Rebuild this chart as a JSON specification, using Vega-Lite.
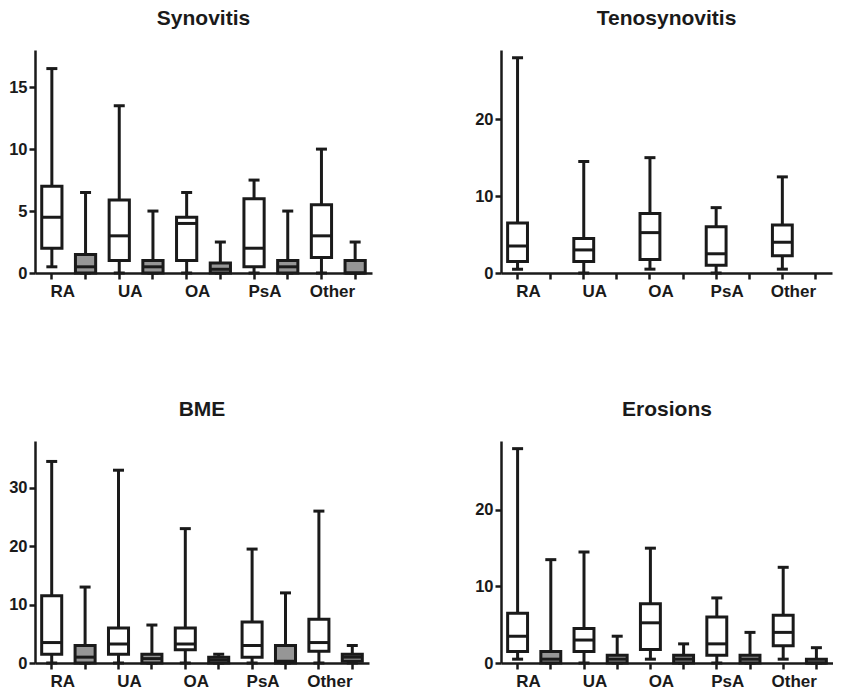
{
  "$schema": "https://vega.github.io/schema/vega-lite/v6.json",
  "padding": {"left": 8, "top": 8, "right": 0, "bottom": 0},
  "background": "white",
  "data": {"values": [
    {"measure": "Synovitis", "box": "RA|1", "group": "1", "min": 0.5, "q1": 2, "median": 4.5, "q3": 7, "max": 16.5},
    {"measure": "Synovitis", "box": "RA|2", "group": "2", "min": 0, "q1": 0, "median": 0.5, "q3": 1.5, "max": 6.5},
    {"measure": "Synovitis", "box": "UA|1", "group": "1", "min": 0, "q1": 1, "median": 3, "q3": 5.9, "max": 13.5},
    {"measure": "Synovitis", "box": "UA|2", "group": "2", "min": 0, "q1": 0, "median": 0.5, "q3": 1, "max": 5},
    {"measure": "Synovitis", "box": "OA|1", "group": "1", "min": 0, "q1": 1, "median": 4, "q3": 4.5, "max": 6.5},
    {"measure": "Synovitis", "box": "OA|2", "group": "2", "min": 0, "q1": 0, "median": 0.3, "q3": 0.8, "max": 2.5},
    {"measure": "Synovitis", "box": "PsA|1", "group": "1", "min": 0, "q1": 0.5, "median": 2, "q3": 6, "max": 7.5},
    {"measure": "Synovitis", "box": "PsA|2", "group": "2", "min": 0, "q1": 0, "median": 0.5, "q3": 1, "max": 5},
    {"measure": "Synovitis", "box": "Other|1", "group": "1", "min": 0, "q1": 1.25, "median": 3, "q3": 5.5, "max": 10},
    {"measure": "Synovitis", "box": "Other|2", "group": "2", "min": 0, "q1": 0, "median": 0, "q3": 1, "max": 2.5},

    {"measure": "Tenosynovitis", "box": "RA|1", "group": "1", "min": 0.5, "q1": 1.5, "median": 3.5, "q3": 6.5, "max": 28},
    {"measure": "Tenosynovitis", "box": "UA|1", "group": "1", "min": 0, "q1": 1.5, "median": 3, "q3": 4.5, "max": 14.5},
    {"measure": "Tenosynovitis", "box": "OA|1", "group": "1", "min": 0.5, "q1": 1.75, "median": 5.25, "q3": 7.75, "max": 15},
    {"measure": "Tenosynovitis", "box": "PsA|1", "group": "1", "min": 0, "q1": 1, "median": 2.5, "q3": 6, "max": 8.5},
    {"measure": "Tenosynovitis", "box": "Other|1", "group": "1", "min": 0.5, "q1": 2.25, "median": 4, "q3": 6.25, "max": 12.5},

    {"measure": "BME", "box": "RA|1", "group": "1", "min": 0, "q1": 1.5, "median": 3.5, "q3": 11.5, "max": 34.5},
    {"measure": "BME", "box": "RA|2", "group": "2", "min": 0, "q1": 0, "median": 1, "q3": 3, "max": 13},
    {"measure": "BME", "box": "UA|1", "group": "1", "min": 0, "q1": 1.5, "median": 3.25, "q3": 6, "max": 33},
    {"measure": "BME", "box": "UA|2", "group": "2", "min": 0, "q1": 0, "median": 0.75, "q3": 1.5, "max": 6.5},
    {"measure": "BME", "box": "OA|1", "group": "1", "min": 0, "q1": 2.25, "median": 3.25, "q3": 6, "max": 23},
    {"measure": "BME", "box": "OA|2", "group": "2", "min": 0, "q1": 0, "median": 0.5, "q3": 1, "max": 1.5},
    {"measure": "BME", "box": "PsA|1", "group": "1", "min": 0, "q1": 1, "median": 3, "q3": 7, "max": 19.5},
    {"measure": "BME", "box": "PsA|2", "group": "2", "min": 0, "q1": 0, "median": 0.3, "q3": 3, "max": 12},
    {"measure": "BME", "box": "Other|1", "group": "1", "min": 0, "q1": 2, "median": 3.5, "q3": 7.5, "max": 26},
    {"measure": "BME", "box": "Other|2", "group": "2", "min": 0, "q1": 0.3, "median": 1, "q3": 1.5, "max": 3},

    {"measure": "Erosions", "box": "RA|1", "group": "1", "min": 0.5, "q1": 1.5, "median": 3.5, "q3": 6.5, "max": 28},
    {"measure": "Erosions", "box": "RA|2", "group": "2", "min": 0, "q1": 0, "median": 0.5, "q3": 1.5, "max": 13.5},
    {"measure": "Erosions", "box": "UA|1", "group": "1", "min": 0, "q1": 1.5, "median": 3, "q3": 4.5, "max": 14.5},
    {"measure": "Erosions", "box": "UA|2", "group": "2", "min": 0, "q1": 0, "median": 0.5, "q3": 1, "max": 3.5},
    {"measure": "Erosions", "box": "OA|1", "group": "1", "min": 0.5, "q1": 1.75, "median": 5.25, "q3": 7.75, "max": 15},
    {"measure": "Erosions", "box": "OA|2", "group": "2", "min": 0, "q1": 0, "median": 0.5, "q3": 1, "max": 2.5},
    {"measure": "Erosions", "box": "PsA|1", "group": "1", "min": 0, "q1": 1, "median": 2.5, "q3": 6, "max": 8.5},
    {"measure": "Erosions", "box": "PsA|2", "group": "2", "min": 0, "q1": 0, "median": 0.5, "q3": 1, "max": 4},
    {"measure": "Erosions", "box": "Other|1", "group": "1", "min": 0.5, "q1": 2.25, "median": 4, "q3": 6.25, "max": 12.5},
    {"measure": "Erosions", "box": "Other|2", "group": "2", "min": 0, "q1": 0, "median": 0, "q3": 0.5, "max": 2}
  ]},
  "columns": 2,
  "spacing": {"row": 100, "column": 102},
  "concat": [
    {
      "title": {"text": "Synovitis"},
      "width": 337, "height": 223,
      "transform": [{"filter": "datum.measure === 'Synovitis'"}],
      "encoding": {"x": {"field": "box", "type": "nominal", "sort": null,
        "scale": {"domain": ["RA|1","RA|2","UA|1","UA|2","OA|1","OA|2","PsA|1","PsA|2","Other|1","Other|2"], "paddingInner": 0, "paddingOuter": 0},
        "axis": {"title": null, "labelFontSize": 17, "labelPadding": 4, "labelOffset": 11, "labelExpr": "split(datum.value, '|')[1] == '1' ? split(datum.value, '|')[0] : ''"}}},
      "layer": [
        {"mark": {"type": "rule", "color": "#1a1a1a", "strokeWidth": 3},
         "encoding": {"y": {"field": "min", "type": "quantitative", "scale": {"domain": [0, 18], "nice": false, "zero": true}, "axis": {"title": null, "values": [0, 5, 10, 15]}}, "y2": {"field": "max"}}},
        {"mark": {"type": "tick", "color": "#1a1a1a", "size": 11, "thickness": 3, "opacity": 1},
         "encoding": {"y": {"field": "min", "type": "quantitative", "axis": {"title": null}}}},
        {"mark": {"type": "tick", "color": "#1a1a1a", "size": 11, "thickness": 3, "opacity": 1},
         "encoding": {"y": {"field": "max", "type": "quantitative", "axis": {"title": null}}}},
        {"mark": {"type": "bar", "stroke": "#1a1a1a", "strokeWidth": 3, "width": {"band": 0.6}, "opacity": 1},
         "encoding": {"y": {"field": "q1", "type": "quantitative", "axis": {"title": null}}, "y2": {"field": "q3"},
           "fill": {"field": "group", "type": "nominal", "scale": {"domain": ["1", "2"], "range": ["#ffffff", "#969696"]}, "legend": null}}},
        {"mark": {"type": "tick", "color": "#1a1a1a", "size": 20, "thickness": 3, "opacity": 1},
         "encoding": {"y": {"field": "median", "type": "quantitative", "axis": {"title": null}}}}
      ]
    },
    {
      "title": {"text": "Tenosynovitis"},
      "width": 331, "height": 223,
      "transform": [{"filter": "datum.measure === 'Tenosynovitis'"}],
      "encoding": {"x": {"field": "box", "type": "nominal", "sort": null,
        "scale": {"domain": ["RA|1","RA|2","UA|1","UA|2","OA|1","OA|2","PsA|1","PsA|2","Other|1","Other|2"], "paddingInner": 0, "paddingOuter": 0},
        "axis": {"title": null, "labelFontSize": 17, "labelPadding": 4, "labelOffset": 11, "labelExpr": "split(datum.value, '|')[1] == '1' ? split(datum.value, '|')[0] : ''"}}},
      "layer": [
        {"mark": {"type": "rule", "color": "#1a1a1a", "strokeWidth": 3},
         "encoding": {"y": {"field": "min", "type": "quantitative", "scale": {"domain": [0, 29], "nice": false, "zero": true}, "axis": {"title": null, "values": [0, 10, 20]}}, "y2": {"field": "max"}}},
        {"mark": {"type": "tick", "color": "#1a1a1a", "size": 11, "thickness": 3, "opacity": 1},
         "encoding": {"y": {"field": "min", "type": "quantitative", "axis": {"title": null}}}},
        {"mark": {"type": "tick", "color": "#1a1a1a", "size": 11, "thickness": 3, "opacity": 1},
         "encoding": {"y": {"field": "max", "type": "quantitative", "axis": {"title": null}}}},
        {"mark": {"type": "bar", "stroke": "#1a1a1a", "strokeWidth": 3, "width": {"band": 0.6}, "opacity": 1},
         "encoding": {"y": {"field": "q1", "type": "quantitative", "axis": {"title": null}}, "y2": {"field": "q3"},
           "fill": {"field": "group", "type": "nominal", "scale": {"domain": ["1", "2"], "range": ["#ffffff", "#969696"]}, "legend": null}}},
        {"mark": {"type": "tick", "color": "#1a1a1a", "size": 20, "thickness": 3, "opacity": 1},
         "encoding": {"y": {"field": "median", "type": "quantitative", "axis": {"title": null}}}}
      ]
    },
    {
      "title": {"text": "BME"},
      "width": 334, "height": 222,
      "transform": [{"filter": "datum.measure === 'BME'"}],
      "encoding": {"x": {"field": "box", "type": "nominal", "sort": null,
        "scale": {"domain": ["RA|1","RA|2","UA|1","UA|2","OA|1","OA|2","PsA|1","PsA|2","Other|1","Other|2"], "paddingInner": 0, "paddingOuter": 0},
        "axis": {"title": null, "labelFontSize": 17, "labelPadding": 4, "labelOffset": 11, "labelExpr": "split(datum.value, '|')[1] == '1' ? split(datum.value, '|')[0] : ''"}}},
      "layer": [
        {"mark": {"type": "rule", "color": "#1a1a1a", "strokeWidth": 3},
         "encoding": {"y": {"field": "min", "type": "quantitative", "scale": {"domain": [0, 38], "nice": false, "zero": true}, "axis": {"title": null, "values": [0, 10, 20, 30]}}, "y2": {"field": "max"}}},
        {"mark": {"type": "tick", "color": "#1a1a1a", "size": 11, "thickness": 3, "opacity": 1},
         "encoding": {"y": {"field": "min", "type": "quantitative", "axis": {"title": null}}}},
        {"mark": {"type": "tick", "color": "#1a1a1a", "size": 11, "thickness": 3, "opacity": 1},
         "encoding": {"y": {"field": "max", "type": "quantitative", "axis": {"title": null}}}},
        {"mark": {"type": "bar", "stroke": "#1a1a1a", "strokeWidth": 3, "width": {"band": 0.6}, "opacity": 1},
         "encoding": {"y": {"field": "q1", "type": "quantitative", "axis": {"title": null}}, "y2": {"field": "q3"},
           "fill": {"field": "group", "type": "nominal", "scale": {"domain": ["1", "2"], "range": ["#ffffff", "#969696"]}, "legend": null}}},
        {"mark": {"type": "tick", "color": "#1a1a1a", "size": 20, "thickness": 3, "opacity": 1},
         "encoding": {"y": {"field": "median", "type": "quantitative", "axis": {"title": null}}}}
      ]
    },
    {
      "title": {"text": "Erosions"},
      "width": 332, "height": 222,
      "transform": [{"filter": "datum.measure === 'Erosions'"}],
      "encoding": {"x": {"field": "box", "type": "nominal", "sort": null,
        "scale": {"domain": ["RA|1","RA|2","UA|1","UA|2","OA|1","OA|2","PsA|1","PsA|2","Other|1","Other|2"], "paddingInner": 0, "paddingOuter": 0},
        "axis": {"title": null, "labelFontSize": 17, "labelPadding": 4, "labelOffset": 11, "labelExpr": "split(datum.value, '|')[1] == '1' ? split(datum.value, '|')[0] : ''"}}},
      "layer": [
        {"mark": {"type": "rule", "color": "#1a1a1a", "strokeWidth": 3},
         "encoding": {"y": {"field": "min", "type": "quantitative", "scale": {"domain": [0, 29], "nice": false, "zero": true}, "axis": {"title": null, "values": [0, 10, 20]}}, "y2": {"field": "max"}}},
        {"mark": {"type": "tick", "color": "#1a1a1a", "size": 11, "thickness": 3, "opacity": 1},
         "encoding": {"y": {"field": "min", "type": "quantitative", "axis": {"title": null}}}},
        {"mark": {"type": "tick", "color": "#1a1a1a", "size": 11, "thickness": 3, "opacity": 1},
         "encoding": {"y": {"field": "max", "type": "quantitative", "axis": {"title": null}}}},
        {"mark": {"type": "bar", "stroke": "#1a1a1a", "strokeWidth": 3, "width": {"band": 0.6}, "opacity": 1},
         "encoding": {"y": {"field": "q1", "type": "quantitative", "axis": {"title": null}}, "y2": {"field": "q3"},
           "fill": {"field": "group", "type": "nominal", "scale": {"domain": ["1", "2"], "range": ["#ffffff", "#969696"]}, "legend": null}}},
        {"mark": {"type": "tick", "color": "#1a1a1a", "size": 20, "thickness": 3, "opacity": 1},
         "encoding": {"y": {"field": "median", "type": "quantitative", "axis": {"title": null}}}}
      ]
    }
  ],
  "config": {
    "font": "Liberation Sans",
    "view": {"stroke": null},
    "title": {"font": "Liberation Sans", "fontSize": 21, "fontWeight": "bold", "color": "#1a1a1a", "offset": 21, "anchor": "middle"},
    "axis": {"domainColor": "#1a1a1a", "domainWidth": 2.5, "tickColor": "#1a1a1a", "tickWidth": 2.5, "tickSize": 6,
      "labelFont": "Liberation Sans", "labelFontSize": 16.5, "labelFontWeight": "bold", "labelColor": "#1a1a1a", "grid": false, "labelPadding": 2},
    "axisX": {"labelAngle": 0}
  }
}
